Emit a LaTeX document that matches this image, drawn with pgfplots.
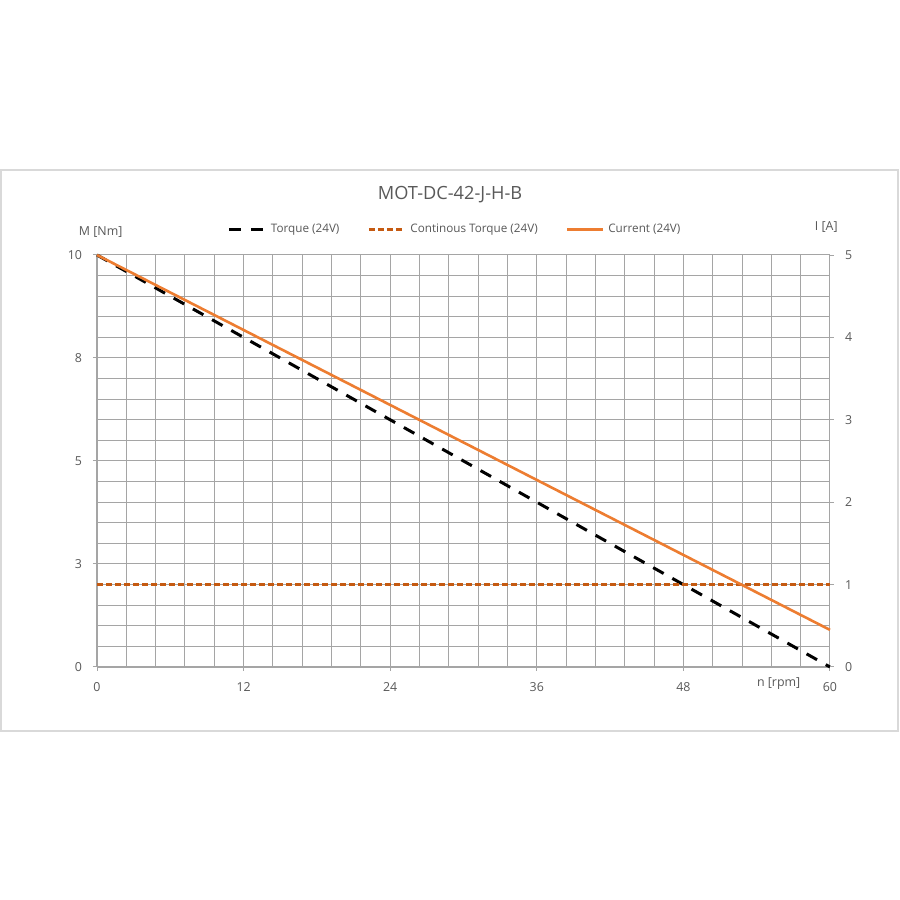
\documentclass[border=0pt]{standalone}
\usepackage{pgfplots}
\pgfplotsset{compat=1.18}
\usepackage{fontspec}
\setmainfont{Open Sans}
\definecolor{txt}{RGB}{89,89,89}
\definecolor{gridc}{RGB}{165,165,165}
\definecolor{ctorque}{RGB}{197,90,17}
\definecolor{ccurrent}{RGB}{237,125,49}
\definecolor{framec}{RGB}{217,217,217}
\begin{document}
\begin{tikzpicture}
\fill[white] (0,0) rectangle (450pt,450pt);
\draw[framec, line width=0.6pt] (0.5pt,84.5pt) rectangle (449pt,365pt);
\node[txt, font=\fontsize{9.1}{11}\selectfont] at (225pt,352.5pt) {MOT-DC-42-J-H-B};
\begin{axis}[
  at={(48.5pt,116.5pt)}, anchor=south west, scale only axis,
  width=366.5pt, height=206pt,
  xmin=0, xmax=60, ymin=0, ymax=10,
  xtick={0,12,24,36,48,60},
  ytick={0,2.5,5,7.5,10}, yticklabels={0,3,5,8,10},
  minor x tick num=4, minor y tick num=4,
  grid=both,
  major grid style={gridc, line width=0.5pt},
  minor grid style={gridc, line width=0.5pt},
  axis x line*=bottom, axis y line*=left,
  axis line style={-, gridc, line width=0.6pt},
  tick align=outside, major tick length=2pt, minor tick length=0pt,
  tick style={gridc, line width=0.5pt},
  ticklabel style={txt, font=\fontsize{6.2}{7}\selectfont},
  /pgf/number format/assume math mode=true,
  xticklabel style={yshift=-2pt},
  yticklabel style={xshift=-2pt},
  legend style={at={(0.49,1.062)}, anchor=center, draw=none, fill=none,
    font=\fontsize{5.85}{7}\selectfont, text=txt, legend columns=3,
    /tikz/every even column/.append style={column sep=12pt}},
  legend image code/.code={\draw[#1] (0pt,0pt) -- (18pt,0pt);},
  clip=false,
]
\addplot[black, line width=1.5pt, dash pattern=on 6pt off 5pt] coordinates {(0,10) (60,0)};
\addlegendentry{Torque (24V)}
\addplot[ctorque, line width=1.5pt, dash pattern=on 3pt off 1.5pt] coordinates {(0,2) (60,2)};
\addlegendentry{Continous Torque (24V)}
\addlegendimage{ccurrent, line width=1.3pt}
\addlegendentry{Current (24V)}
\node[txt, font=\fontsize{6.2}{7}\selectfont] at (axis cs:0.3,10) [yshift=11.5pt] {M [Nm]};
\node[txt, font=\fontsize{6.2}{7}\selectfont] at (axis cs:55.8,0) [yshift=-8.5pt] {n [rpm]};
\end{axis}
\begin{axis}[
  at={(48.5pt,116.5pt)}, anchor=south west, scale only axis,
  width=366.5pt, height=206pt,
  xmin=0, xmax=60, ymin=0, ymax=5,
  axis x line=none, axis y line*=right,
  ytick={0,1,2,3,4,5},
  axis line style={-, draw=none},
  tick align=outside, major tick length=2pt,
  tick style={gridc, line width=0.5pt},
  ticklabel style={txt, font=\fontsize{6.2}{7}\selectfont},
  yticklabel style={xshift=2pt},
  /pgf/number format/assume math mode=true,
  clip=false,
]
\addplot[ccurrent, line width=1.3pt] coordinates {(0,5) (60,0.45)};
\node[txt, font=\fontsize{6.2}{7}\selectfont] at (axis cs:59.7,5) [yshift=14pt] {I [A]};
\end{axis}
\end{tikzpicture}
\end{document}
